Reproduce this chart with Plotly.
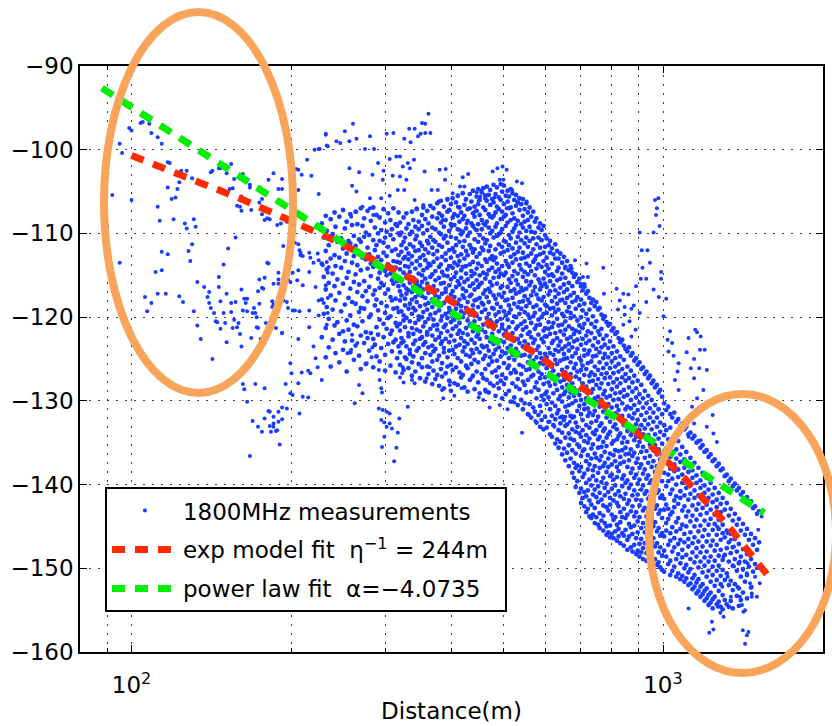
import numpy as np
import plotly.graph_objects as go

# ---------------------------------------------------------------
# 1800 MHz drive-test samples: (distance in m, received level in dB)
# ---------------------------------------------------------------
near_field = [
    (99,-97.4),(100,-97.7),(95,-99.3),(96,-100.4),(104,-96.8),(105,-96.7),(108,-96.9),(109,-98.0),(112,-98.5),(114,-99.3),
    (90,-102.8),(92,-105.4),(90,-109.1),(95,-113.5),(100,-106.0),(117,-101.5),(118,-101.6),(117,-104.5),(122,-104.7),(123,-103.9),
    (119,-105.9),(121,-105.7),(112,-106.8),(113,-108.5),(120,-108.3),(124,-102.5),(127,-102.5),(130,-103.4),(126,-108.8),(127,-109.4),
    (131,-108.3),(132,-109.2),(130,-111.3),(128,-112.1),(129,-113.3),(114,-112.2),(117,-112.5),(114,-114.4),(111,-114.6),(106,-117.6),
    (109,-118.3),(107,-119.3),(112,-117.2),(116,-117.2),(123,-117.5),(125,-118.2),(131,-119.3),(133,-121.0),(135,-122.6),(133,-115.8),
    (137,-116.4),(140,-117.0),(139,-117.6),(140,-118.3),(141,-118.9),(143,-119.5),(144,-120.5),(145,-120.6),(146,-115.2),(146,-116.4),
    (149,-113.7),(151,-117.2),(147,-118.1),(149,-119.5),(150,-120.7),(147,-121.4),(154,-118.3),(157,-118.2),(154,-119.4),(156,-120.3),
    (155,-121.3),(158,-121.2),(159,-120.7),(161,-116.7),(163,-117.8),(164,-118.3),(165,-117.8),(162,-119.2),(165,-119.3),(169,-119.5),
    (170,-118.9),(171,-119.5),(172,-120.0),(174,-118.4),(160,-122.0),(161,-123.5),(151,-123.0),(142,-125.0),(168,-122.5),(172,-121.2),
    (152,-111.8),(157,-110.5),(180,-113.5),(181,-113.6),(174,-115.5),(178,-115.3),(176,-116.5),(173,-116.9),(177,-116.6),(185,-116.0),
    (189,-114.7),(189,-115.5),(184,-118.1),(185,-118.5),(184,-118.8),(196,-118.2),(197,-118.9),(203,-119.2),(173,-121.3),(179,-120.7),
    (175,-122.6),(178,-123.1),(192,-121.9),(206,-122.6),
    (142,-102.5),(147,-102.2),(151,-102.8),(154,-101.7),(156,-103.5),(153,-104.7),(158,-106.7),(160,-106.8),(161,-107.3),(162,-102.9),
    (163,-105.9),(167,-104.5),(168,-107.2),(176,-105.9),(174,-106.3),(176,-107.7),(178,-108.4),(180,-108.2),(181,-103.6),(185,-102.8),
    (189,-104.7),(192,-103.5),(192,-104.7),(182,-108.3),(188,-109.0),(191,-108.8),(196,-108.6),(193,-111.5),(202,-110.0),(206,-111.3),
    (207,-112.0),(208,-112.6),(206,-102.4),(209,-103.0),(206,-104.8),(214,-101.2),(218,-103.1),(221,-100.0),(225,-99.9),(232,-98.2),
    (234,-99.6),(225,-105.3),(141,-102.7),(146,-102.2),(160,-103.4),(155,-104.6),(167,-104.2),(161,-105.6),(204,-102.3),
    (189,-116.0),(197,-115.5),(201,-114.7),(199,-115.8),(203,-111.1),(208,-112.3),(210,-112.7),(216,-112.3),(217,-112.9),(220,-113.5),
    (224,-112.4),(225,-113.2),(229,-113.8),(233,-113.4),(235,-114.0),(234,-114.7),(206,-114.4),(205,-115.6),(210,-116.2),(216,-114.6),
    (222,-116.4),(232,-116.2),(225,-118.0),(234,-117.7),(193,-118.0),(201,-119.2),(207,-119.3),(216,-119.2),(225,-119.8),(230,-118.3),
    (234,-119.5),(187,-121.3),(192,-121.9),(216,-121.2),(220,-123.5),(222,-124.9),(224,-126.0),(228,-127.5),(233,-120.9),
]

near_tail = [
    (162,-128.0),(163,-128.6),(165,-130.1),(171,-128.0),(178,-128.5),(182,-131.3),(185,-131.9),(189,-131.3),(192,-130.8),(196,-130.9),
    (199,-129.1),(201,-129.3),(207,-131.5),(210,-129.5),(215,-129.6),(195,-128.0),(199,-125.5),(200,-126.7),(206,-127.9),(209,-126.6),
    (215,-126.4),(217,-126.7),(169,-132.4),(173,-133.1),(176,-133.7),(178,-132.1),(181,-131.2),(182,-133.0),(183,-133.7),(185,-133.1),
    (187,-133.6),(188,-133.5),(190,-135.2),(185,-132.7),(189,-132.5),(192,-132.2),(167,-136.6),
]

upper_scatter = [
    (232,-98.1),(243,-99.0),(247,-99.2),(252,-97.8),(257,-99.0),(261,-96.9),(265,-98.7),(275,-99.9),(281,-98.4),(286,-99.9),
    (302,-98.1),(311,-98.0),(326,-98.7),(333,-97.5),(341,-97.5),(335,-99.1),(346,-98.4),(350,-98.1),(352,-96.8),(357,-96.9),
    (362,-95.7),(357,-98.0),(365,-98.0),(226,-99.9),(233,-99.5),
    (257,-102.2),(268,-102.7),(260,-104.3),(265,-105.0),(284,-103.0),(298,-102.5),(306,-101.1),(315,-100.8),(320,-100.8),(331,-101.6),
    (340,-101.2),(334,-102.2),(324,-102.0),(329,-103.6),(320,-103.2),(310,-103.1),(297,-103.6),(291,-101.6),(281,-105.8),(272,-106.8),
    (265,-107.4),(259,-108.0),(281,-107.0),(285,-107.8),(295,-105.8),(306,-105.5),(317,-104.8),(326,-104.8),(341,-106.0),(344,-107.0),
    (354,-106.6),(356,-102.6),(367,-104.8),(380,-102.4),(390,-102.3),(377,-104.8),(389,-103.6),(378,-106.2),(393,-106.0),(402,-105.2),
    (415,-104.4),(411,-106.8),(423,-104.4),(425,-106.0),(453,-105.6),(462,-105.4),(442,-107.4),(478,-102.6),(488,-102.2),(499,-102.0),
    (508,-102.4),(493,-103.6),(501,-103.6),(520,-104.8),(531,-103.8),(543,-104.0),(536,-105.8),(554,-106.2),(508,-107.0),(472,-108.0),
    (459,-108.8),(442,-109.4),(427,-108.8),(415,-109.6),(400,-109.2),(385,-108.4),(420,-103.3),(430,-102.9),(446,-105.1),(455,-104.9),
    (468,-105.4),(482,-105.7),(450,-106.1),
]

lower_scatter = [
    (292,-126.3),(293,-127.5),(295,-128.5),(296,-129.0),(292,-130.9),(297,-131.1),(302,-131.3),(306,-131.5),(295,-132.3),(299,-132.6),
    (306,-132.7),(302,-133.1),(309,-133.3),(296,-135.5),(299,-134.3),(315,-135.6),(312,-137.2),(317,-133.8),(319,-132.1),(320,-127.2),
    (323,-126.7),(331,-130.7),(325,-127.8),
    (260,-122.1),(266,-123.1),(259,-123.9),(255,-124.3),(268,-128.1),(272,-129.1),(263,-130.3),(284,-123.6),(283,-124.8),(277,-125.5),
    (324,-126.0),(337,-127.5),(341,-127.9),(359,-127.3),(364,-126.0),(384,-128.7),(386,-129.7),(397,-128.1),(418,-128.5),(427,-126.0),
    (437,-127.2),(459,-129.9),(464,-128.9),(488,-127.9),(493,-130.5),(510,-131.0),(525,-130.2),(543,-133.8),(560,-131.7),(575,-132.4),
    (590,-131.3),(612,-132.5),(625,-133.1),(640,-132.0),(655,-131.9),(668,-132.5),(450,-129.6),(472,-130.8),(405,-129.4),
]

streak_1km = [
    (966,-106.0),(980,-105.8),(974,-107.0),(970,-107.8),(985,-109.1),(904,-109.9),(960,-109.9),(912,-112.0),(935,-112.0),(945,-113.5),
    (915,-114.1),(908,-115.4),(930,-115.4),(992,-115.4),(960,-116.7),(982,-117.6),(930,-118.2),(904,-119.5),(1002,-119.9),(1014,-117.8),
    (992,-114.6),
]

right_scatter = [
    (772,-114.1),(774,-117.2),(683,-113.2),(718,-113.6),(654,-114.2),(673,-114.2),(707,-115.2),(722,-115.2),(700,-116.0),(713,-116.4),
    (818,-116.6),(842,-117.2),(861,-117.3),(829,-118.0),(847,-118.8),(872,-119.0),(823,-119.1),(881,-118.6),(890,-116.3),(847,-119.7),
    (865,-120.5),(842,-120.9),(888,-121.5),(872,-122.3),
    (1031,-121.7),(1020,-122.7),(1040,-123.1),(1024,-124.1),(1047,-124.6),(1070,-125.5),(1065,-126.5),(1053,-127.5),(1108,-124.2),(1070,-128.7),
    (1150,-121.5),(1159,-121.8),(1177,-122.3),(1117,-122.5),(1174,-123.9),(1144,-125.0),(1209,-126.3),(1128,-126.1),(1144,-127.3),(1191,-128.7),
    (1159,-129.7),(1134,-130.7),(1177,-130.7),(1240,-131.7),(1144,-132.7),(1209,-133.1),(1244,-133.9),(1263,-134.9),(1177,-134.7),(1117,-134.3),
    (1086,-135.5),(1198,-123.9),(1170,-126.1),
]

far_scatter = [
    (1427,-159.0),(1438,-158.0),(1413,-157.4),(1448,-157.6),(1244,-157.3),(1222,-157.7),(1236,-156.4),(1117,-154.8),(1282,-155.3),(1300,-155.8),
    (1268,-154.6),(1417,-155.2),(1427,-155.0),(1469,-153.4),(1502,-153.4),(1408,-154.4),(1396,-153.4),(1511,-145.4),(1533,-143.8),(1502,-150.0),
    (1490,-151.0),(1469,-152.2),(1469,-153.0),(1521,-151.8),(1443,-149.4),(1282,-143.4),(1264,-145.0),(1323,-145.8),(1342,-146.6),(1360,-147.4),
    (1300,-148.6),(1394,-149.2),(1413,-150.2),(1438,-150.6),(1458,-151.8),(1360,-149.8),(1323,-151.0),(1293,-152.2),(1380,-152.2),(1342,-153.4),
]

# dense part of the drive: levels logged at each distance step
cloud_near = {
    228:[-108.8,-113.6,-117.9,-122.4], 230:[-110.5,-115.2,-119.6], 232:[-107.9,-112.1,-116.7,-121.3,-124.8],
    233:[-109.7,-114.3,-118.8], 235:[-111.4,-115.9,-120.2,-123.6], 237:[-108.3,-113.0,-117.4,-125.9],
    239:[-110.1,-114.8,-119.1,-122.7], 241:[-107.5,-112.6,-116.3,-121.0], 242:[-109.2,-113.9,-118.0,-124.3],
    244:[-111.0,-115.5,-120.6], 246:[-108.0,-112.9,-117.1,-122.0,-125.4], 248:[-110.6,-114.1,-119.3],
    250:[-107.2,-111.8,-116.0,-121.7,-123.9], 252:[-109.4,-113.3,-118.5,-122.9], 254:[-108.6,-112.4,-115.3,-120.4,-126.5],
    256:[-110.9,-114.6,-117.7,-121.5], 258:[-107.7,-111.2,-116.6,-119.8,-124.2], 260:[-109.0,-113.5,-118.2,-122.8],
    262:[-110.3,-112.7,-115.8,-120.9,-125.1], 264:[-107.4,-111.5,-114.9,-118.4,-123.4], 266:[-108.9,-113.8,-117.0,-121.1],
    268:[-110.7,-112.2,-116.1,-119.4,-124.6], 270:[-107.0,-111.0,-114.4,-118.9,-122.2,-126.2], 272:[-109.1,-112.9,-117.5,-120.5],
    274:[-108.2,-110.4,-115.7,-119.0,-123.1], 276:[-109.9,-113.1,-116.9,-121.8,-125.6], 278:[-107.3,-111.7,-114.2,-118.1,-122.5],
    280:[-110.2,-112.5,-116.4,-120.0,-124.0], 282:[-108.5,-113.6,-115.1,-119.7,-121.9], 285:[-106.9,-110.8,-114.0,-117.3,-122.6,-126.0],
    287:[-109.3,-112.0,-116.8,-118.6,-123.3], 289:[-107.8,-111.4,-113.4,-117.9,-121.2,-124.7], 291:[-110.0,-112.8,-115.4,-119.2,-122.1],
    293:[-108.1,-110.9,-114.7,-116.5,-120.3,-125.3], 295:[-109.6,-113.2,-115.9,-118.3,-123.7], 298:[-107.1,-111.1,-112.3,-116.2,-120.8,-122.4],
    300:[-108.7,-110.5,-114.5,-117.2,-119.5,-124.5,-126.4], 302:[-109.8,-112.7,-115.0,-118.7,-121.4], 304:[-107.6,-111.6,-113.7,-116.7,-120.1,-123.2],
    307:[-108.4,-110.2,-114.8,-117.6,-119.9,-122.0,-125.8], 309:[-109.5,-112.1,-115.6,-118.0,-121.6,-124.1], 311:[-107.0,-110.7,-113.3,-116.0,-119.0,-123.0],
    314:[-108.9,-111.9,-114.1,-117.8,-120.7,-122.7,-126.6], 316:[-109.1,-113.4,-115.7,-118.9,-121.1,-124.9], 318:[-107.5,-110.0,-112.6,-116.3,-119.4,-123.5],
}

cloud_mid = {
    320:[-108.7,-110.2,-113.5,-114.3,-116.9,-118.0,-120.8,-121.6,-124.2,-125.7],
    322:[-109.9,-111.4,-112.2,-115.6,-117.4,-119.3,-122.5,-123.1],
    325:[-108.1,-111.0,-113.0,-114.7,-116.2,-119.8,-120.4,-122.9,-126.3],
    327:[-110.5,-112.8,-113.9,-117.8,-118.6,-121.2,-124.8],
    329:[-107.6,-109.4,-111.8,-115.1,-116.6,-117.2,-120.1,-123.5,-125.0],
    332:[-108.9,-112.4,-113.1,-114.0,-116.8,-119.0,-121.9,-122.3,-126.1],
    334:[-110.1,-111.3,-114.6,-115.9,-118.4,-120.5,-123.9,-124.4],
    337:[-107.4,-109.8,-112.7,-113.6,-117.0,-117.9,-119.6,-121.3,-125.4,-127.0],
    339:[-108.4,-111.6,-115.3,-116.4,-118.9,-122.0,-123.2,-124.7],
    342:[-109.2,-110.7,-112.1,-114.2,-117.6,-119.2,-120.7,-122.8,-126.5],
    344:[-107.1,-110.3,-113.3,-115.7,-116.1,-118.2,-121.5,-124.0],
    347:[-108.6,-109.5,-112.0,-114.8,-117.3,-119.9,-120.3,-123.7,-125.6],
    349:[-111.1,-112.9,-113.8,-116.3,-118.7,-121.7,-122.6,-127.3],
    352:[-107.8,-109.1,-111.5,-115.0,-115.8,-117.5,-120.0,-122.4,-124.9,-126.0],
    354:[-106.9,-110.0,-112.6,-114.4,-116.7,-119.4,-121.1,-123.3],
    357:[-108.3,-111.9,-113.2,-115.4,-117.7,-118.5,-120.6,-123.0,-124.3,-127.7],
    360:[-107.3,-109.6,-110.9,-114.1,-116.0,-119.1,-121.8,-122.1,-125.9],
    362:[-108.8,-111.2,-112.3,-113.6,-117.1,-118.3,-120.2,-123.6,-126.8],
    365:[-106.7,-110.4,-113.8,-115.2,-116.5,-119.7,-121.4,-124.5],
    368:[-108.0,-109.3,-111.7,-114.9,-117.9,-118.8,-122.2,-123.4,-125.3,-128.0],
    370:[-107.0,-110.8,-112.5,-113.4,-116.3,-120.3,-121.0,-124.1,-126.4],
    373:[-109.5,-111.0,-114.5,-115.6,-117.4,-119.5,-122.7,-123.8,-127.4],
    376:[-106.4,-108.2,-112.1,-113.0,-116.8,-118.1,-120.9,-121.5,-125.1,-126.9],
    379:[-107.6,-109.9,-111.4,-114.0,-115.3,-117.6,-119.2,-122.4,-124.6,-128.2],
    382:[-106.1,-108.7,-110.1,-113.7,-116.0,-118.6,-120.4,-121.9,-123.2,-126.2],
    384:[-107.9,-111.6,-112.8,-114.6,-117.2,-119.9,-122.9,-125.5,-127.1],
    387:[-106.8,-109.2,-110.6,-115.0,-115.9,-118.3,-121.2,-123.7,-124.2,-128.5],
    390:[-108.4,-110.3,-112.4,-113.2,-116.6,-117.0,-119.6,-120.9,-122.6,-126.7],
    393:[-105.9,-107.4,-111.1,-114.3,-115.1,-117.8,-120.1,-121.7,-124.8,-125.9],
    396:[-107.2,-109.7,-112.0,-113.9,-116.2,-118.9,-119.4,-123.0,-124.0,-127.6],
    399:[-106.5,-108.9,-110.4,-112.9,-115.5,-117.3,-120.6,-122.2,-125.7,-128.8],
    402:[-105.8,-108.1,-111.8,-114.1,-116.9,-118.1,-119.8,-121.4,-123.9,-126.3],
    405:[-107.7,-109.0,-112.2,-113.5,-115.2,-117.6,-120.3,-122.8,-124.4,-127.9],
    408:[-106.3,-110.6,-111.4,-114.7,-116.4,-119.0,-121.1,-123.5,-126.0],
    411:[-105.5,-107.9,-109.5,-112.7,-113.8,-115.7,-118.4,-119.9,-122.0,-124.9,-128.1],
    414:[-106.9,-108.6,-111.0,-113.3,-116.1,-117.9,-120.7,-121.6,-123.3,-126.6],
    417:[-107.5,-110.1,-112.5,-114.4,-115.3,-118.7,-119.3,-122.5,-125.3,-127.2],
    420:[-105.2,-108.3,-109.8,-111.6,-114.0,-116.6,-117.4,-120.0,-121.9,-124.1,-126.9],
    423:[-106.6,-107.9,-110.9,-113.0,-115.8,-117.7,-119.5,-122.9,-123.6,-128.4],
    426:[-105.9,-109.4,-112.1,-113.9,-114.8,-116.9,-118.9,-121.3,-124.5,-125.8],
    429:[-107.1,-108.5,-110.3,-112.6,-115.5,-118.2,-120.4,-122.1,-123.2,-126.1,-128.9],
    433:[-105.3,-107.0,-109.9,-111.4,-113.7,-116.3,-117.5,-119.7,-121.0,-124.7,-127.5],
    436:[-106.2,-108.8,-111.8,-114.5,-115.1,-117.3,-120.8,-122.7,-123.9,-125.6],
    439:[-104.9,-107.6,-109.1,-112.3,-113.4,-116.0,-118.6,-119.2,-121.7,-124.3,-127.0],
    442:[-106.8,-108.0,-110.7,-111.9,-114.8,-116.7,-118.0,-120.5,-123.1,-125.1,-128.6],
    446:[-105.6,-107.3,-109.6,-112.8,-114.2,-115.6,-117.9,-119.8,-122.3,-123.8,-126.5],
    449:[-104.7,-106.5,-108.9,-111.0,-113.6,-116.4,-118.8,-121.2,-122.0,-125.4,-127.8],
    452:[-106.0,-107.8,-110.2,-112.4,-115.0,-116.1,-117.7,-120.2,-122.6,-124.2,-129.1],
    456:[-105.1,-108.4,-109.5,-111.7,-113.9,-115.9,-118.3,-119.4,-121.5,-123.4,-126.8],
    459:[-104.6,-106.9,-110.6,-112.0,-114.7,-117.2,-118.5,-120.9,-123.6,-125.0,-127.3],
    463:[-105.8,-107.2,-109.0,-111.2,-113.1,-115.4,-116.8,-119.1,-121.8,-124.6,-126.2,-128.7],
    466:[-104.4,-106.1,-108.6,-110.8,-113.4,-114.9,-117.6,-120.1,-122.4,-123.5,-127.5],
    470:[-105.4,-107.7,-109.3,-112.1,-114.4,-116.6,-118.2,-119.6,-121.1,-124.0,-125.7,-129.0],
    473:[-104.8,-106.6,-110.0,-111.5,-113.0,-115.8,-117.0,-120.4,-122.9,-124.8,-127.9],
    477:[-105.9,-108.1,-109.7,-112.7,-114.1,-116.2,-118.9,-120.7,-122.0,-125.3,-126.6],
    480:[-104.2,-106.3,-107.9,-110.5,-113.2,-115.3,-117.4,-119.0,-121.4,-123.2,-124.4,-128.2],
    484:[-105.3,-107.5,-109.2,-111.9,-112.9,-114.6,-117.8,-119.7,-121.0,-123.9,-126.4,-129.4],
    487:[-104.5,-106.8,-108.8,-110.3,-113.6,-116.0,-118.4,-120.5,-122.7,-125.2,-127.1],
    491:[-105.7,-107.1,-110.1,-111.3,-114.3,-115.2,-117.3,-119.4,-121.7,-123.6,-126.0,-128.5],
    495:[-104.1,-106.0,-108.3,-109.9,-112.4,-114.8,-116.5,-118.8,-120.2,-122.8,-124.7,-127.6],
    498:[-105.0,-107.4,-109.5,-111.6,-113.9,-116.3,-117.6,-120.9,-121.3,-124.1,-126.9,-129.7],
    502:[-104.3,-106.5,-108.0,-110.9,-112.2,-115.0,-117.1,-119.3,-122.1,-123.0,-125.5,-128.0],
    506:[-105.5,-107.8,-109.1,-111.0,-113.3,-114.7,-118.0,-119.8,-121.6,-124.3,-127.3,-129.2],
    510:[-104.9,-106.2,-108.7,-112.0,-113.7,-116.4,-117.9,-120.3,-122.5,-123.7,-126.1],
    513:[-105.6,-107.0,-110.2,-111.4,-114.0,-115.5,-118.6,-119.5,-121.2,-124.9,-125.8,-128.8],
    517:[-104.7,-106.9,-108.4,-110.6,-112.8,-115.9,-116.9,-119.1,-122.3,-123.4,-126.7,-130.1],
    521:[-105.2,-107.6,-109.8,-111.8,-113.5,-115.1,-117.7,-120.6,-121.9,-124.5,-127.9],
    525:[-106.0,-108.2,-109.4,-112.5,-114.5,-116.7,-118.4,-119.9,-122.8,-125.1,-126.3,-129.6],
    529:[-105.4,-106.7,-109.0,-111.1,-113.1,-115.6,-117.2,-120.0,-121.4,-123.8,-126.6,-128.3],
    533:[-106.3,-108.5,-110.4,-112.2,-114.8,-116.1,-118.8,-121.1,-122.6,-124.2,-127.4,-130.5],
    537:[-105.8,-107.2,-109.9,-111.7,-113.8,-117.0,-118.2,-119.6,-123.1,-125.7,-128.6],
    541:[-106.5,-108.9,-110.8,-113.0,-114.3,-116.5,-119.0,-120.8,-122.2,-124.6,-126.8,-129.9],
    545:[-105.9,-107.9,-109.3,-112.3,-115.2,-116.8,-118.1,-121.5,-123.5,-125.9,-127.7,-131.0],
    549:[-107.1,-108.6,-111.2,-112.9,-114.6,-117.5,-119.4,-120.5,-122.9,-124.5,-128.1,-130.3],
    553:[-106.4,-109.7,-110.5,-113.6,-115.7,-116.6,-118.7,-121.2,-123.8,-126.3,-129.0],
    557:[-107.5,-108.4,-111.6,-112.7,-114.9,-117.9,-119.7,-122.0,-123.3,-125.4,-127.5,-131.6],
    561:[-106.9,-109.2,-110.9,-113.9,-116.2,-118.3,-120.1,-121.8,-124.7,-126.2,-130.4],
    565:[-108.0,-109.8,-112.4,-114.5,-115.8,-117.4,-120.7,-122.4,-124.0,-127.1,-128.9,-132.0],
    570:[-107.4,-110.6,-111.9,-113.4,-116.9,-118.8,-119.9,-123.1,-125.2,-126.9,-130.8],
    574:[-108.6,-109.9,-113.1,-115.0,-116.4,-119.5,-121.4,-122.7,-125.8,-128.4,-131.3],
    578:[-108.2,-111.3,-112.7,-114.2,-117.3,-118.6,-121.0,-123.9,-124.8,-127.8,-129.7,-132.6],
    583:[-109.3,-110.5,-113.7,-115.5,-117.8,-120.3,-122.1,-123.5,-126.5,-128.7,-131.7],
    587:[-108.8,-111.7,-112.5,-115.9,-116.7,-119.1,-120.9,-124.3,-125.5,-127.3,-130.6,-133.1],
    591:[-109.6,-110.8,-114.0,-116.3,-118.0,-120.0,-122.6,-124.9,-126.8,-129.4,-132.3],
    596:[-109.1,-112.3,-113.3,-115.4,-117.6,-119.6,-121.6,-123.0,-125.6,-128.0,-129.9,-133.4],
    600:[-110.2,-111.6,-114.6,-116.0,-118.5,-121.3,-122.3,-124.4,-127.2,-129.2,-131.9],
}

cloud_far = {
    604:[-110.6,-112.9,-113.8,-116.4,-118.7,-119.5,-122.3,-124.8,-126.1,-128.9,-130.4,-133.2],
    609:[-111.4,-114.2,-115.0,-117.3,-120.6,-121.4,-123.7,-125.5,-127.8,-129.6,-132.5],
    613:[-110.9,-112.3,-115.7,-116.9,-119.0,-122.0,-124.3,-126.7,-128.2,-131.0,-134.0],
    618:[-111.8,-113.6,-114.9,-118.1,-119.8,-121.2,-123.1,-125.9,-127.3,-130.2,-131.8,-134.3],
    622:[-112.5,-115.1,-116.2,-118.9,-120.7,-122.8,-124.5,-126.4,-129.1,-132.9],
    627:[-111.3,-113.0,-116.8,-117.6,-119.4,-121.9,-123.9,-125.1,-128.0,-130.6,-132.2,-135.1],
    632:[-112.1,-114.5,-115.6,-118.4,-120.2,-122.5,-125.6,-127.1,-128.7,-131.5,-134.6],
    636:[-113.0,-114.1,-117.2,-119.1,-121.0,-123.4,-124.1,-126.9,-129.8,-131.1,-133.5,-135.6],
    641:[-112.4,-115.4,-116.5,-118.0,-121.7,-122.9,-125.2,-127.7,-129.4,-132.7,-134.9],
    646:[-113.5,-114.8,-117.9,-119.6,-120.9,-123.8,-126.3,-128.4,-130.1,-131.9,-133.8,-136.4],
    651:[-112.8,-116.1,-117.0,-119.9,-122.1,-124.4,-125.0,-127.5,-129.2,-132.3,-135.7],
    655:[-114.0,-115.3,-118.3,-120.5,-121.5,-123.5,-126.6,-128.9,-130.7,-133.0,-134.4,-137.1],
    660:[-113.3,-116.7,-117.7,-119.3,-122.6,-124.9,-126.0,-128.1,-131.3,-132.8,-136.2],
    665:[-114.4,-115.9,-118.8,-121.1,-123.2,-124.0,-127.3,-129.6,-130.5,-133.9,-135.3,-137.8],
    670:[-113.9,-117.4,-119.5,-120.1,-122.4,-125.4,-126.8,-129.0,-131.8,-134.5,-136.9],
    675:[-114.7,-116.3,-118.2,-121.4,-123.6,-124.7,-127.9,-130.3,-132.0,-133.4,-135.9,-138.6],
    680:[-115.2,-117.1,-119.9,-122.0,-122.9,-126.1,-128.5,-129.4,-131.9,-134.7,-137.4,-139.2],
    685:[-114.9,-118.0,-119.0,-121.6,-124.3,-125.6,-127.1,-130.0,-132.6,-133.7,-136.3,-138.0,-140.3],
    690:[-115.8,-117.6,-120.4,-122.7,-123.8,-126.5,-128.8,-131.2,-133.1,-135.2,-137.7,-139.6],
    696:[-115.4,-118.6,-121.0,-121.8,-124.9,-127.4,-129.3,-130.6,-133.9,-135.5,-138.4,-141.0],
    701:[-116.3,-117.9,-120.0,-123.3,-125.2,-126.3,-129.9,-131.6,-134.3,-136.6,-137.9,-140.5,-142.2],
    706:[-116.8,-119.2,-121.3,-122.6,-125.8,-127.9,-128.6,-132.3,-133.5,-136.0,-139.1,-141.6],
    711:[-116.1,-118.4,-120.8,-123.9,-124.6,-126.9,-130.4,-131.0,-134.8,-135.8,-138.7,-140.9,-142.6],
    717:[-117.2,-119.6,-122.2,-123.1,-126.2,-128.3,-129.7,-132.9,-134.1,-137.2,-139.8,-141.4,-143.3],
    722:[-116.9,-120.3,-121.7,-124.4,-125.5,-128.9,-130.9,-131.8,-135.0,-136.5,-138.2,-140.7,-142.9],
    727:[-117.7,-119.1,-122.8,-124.0,-127.0,-127.7,-131.4,-133.2,-134.5,-137.6,-139.4,-141.9,-143.8],
    733:[-118.3,-120.8,-121.9,-125.3,-126.6,-129.0,-130.2,-132.6,-135.7,-136.9,-140.1,-142.4,-144.0],
    738:[-117.9,-119.9,-123.4,-124.7,-127.6,-128.6,-131.7,-133.8,-135.2,-138.3,-139.0,-141.2,-143.6],
    744:[-118.7,-121.2,-122.5,-125.9,-126.9,-129.7,-131.2,-134.0,-136.3,-137.8,-140.6,-142.8,-144.6],
    749:[-118.2,-120.5,-123.8,-124.6,-128.1,-130.1,-132.4,-133.5,-136.8,-139.5,-141.5,-143.9],
    755:[-119.1,-121.7,-123.0,-126.3,-127.4,-129.5,-131.9,-134.6,-135.6,-138.6,-140.2,-142.1,-144.8],
    760:[-118.9,-122.1,-124.2,-125.4,-128.5,-130.7,-133.0,-134.3,-137.1,-138.0,-141.0,-143.4,-145.2],
    766:[-119.7,-121.4,-123.6,-126.8,-127.9,-129.9,-132.7,-135.5,-136.6,-139.7,-141.8,-144.3],
    772:[-120.2,-122.6,-124.9,-126.1,-129.2,-131.3,-133.6,-134.9,-137.8,-139.2,-142.5,-143.7,-145.5],
    777:[-119.9,-123.3,-124.4,-127.3,-128.8,-130.5,-133.3,-136.1,-137.4,-140.4,-141.3,-144.6],
    783:[-120.6,-122.2,-125.6,-126.7,-129.6,-132.0,-134.4,-135.4,-138.5,-139.9,-142.7,-145.0,-146.0],
    789:[-121.0,-123.7,-124.8,-128.0,-130.4,-131.6,-134.0,-136.9,-137.9,-140.9,-143.1,-145.7],
    795:[-120.8,-122.9,-126.1,-127.2,-129.4,-132.5,-133.7,-136.3,-139.0,-141.6,-142.4,-144.9,-146.3],
    801:[-121.6,-124.3,-125.3,-128.6,-130.8,-131.9,-135.1,-137.6,-138.8,-140.5,-143.6,-145.9],
    807:[-121.3,-123.5,-126.7,-127.8,-129.9,-133.1,-134.8,-136.5,-139.4,-141.9,-144.2,-146.4],
    813:[-122.0,-124.9,-125.9,-129.1,-131.5,-132.8,-135.9,-137.2,-140.1,-141.2,-143.9,-145.6],
    819:[-121.8,-124.1,-127.4,-128.3,-130.6,-133.4,-134.6,-137.9,-139.1,-142.2,-144.8,-146.7],
    825:[-122.5,-125.6,-126.5,-129.8,-131.1,-134.2,-136.0,-138.4,-140.8,-142.6,-145.3,-146.2],
    831:[-123.0,-124.7,-127.9,-129.0,-132.2,-133.9,-136.7,-137.5,-141.4,-143.3,-144.5,-147.0],
    838:[-122.7,-126.2,-127.2,-130.3,-131.8,-135.0,-135.9,-139.3,-140.2,-143.9,-145.8],
    844:[-123.4,-125.1,-128.7,-129.5,-132.9,-134.4,-137.3,-138.9,-141.7,-142.9,-146.1,-147.3],
    850:[-123.8,-126.8,-127.6,-131.0,-132.4,-135.6,-136.4,-139.8,-141.1,-144.0,-145.4],
    857:[-124.1,-125.9,-129.3,-130.7,-133.6,-134.9,-137.9,-139.5,-142.3,-143.6,-146.6,-147.8],
    863:[-123.6,-127.3,-128.4,-131.8,-133.2,-136.3,-137.1,-140.4,-141.9,-144.7,-146.2],
    870:[-124.6,-126.4,-129.9,-130.9,-134.1,-135.8,-138.6,-140.0,-143.2,-145.1,-147.5],
    876:[-124.3,-127.8,-128.9,-132.1,-133.7,-136.6,-138.1,-141.3,-142.6,-145.9,-148.0],
    883:[-125.2,-127.0,-130.5,-131.5,-134.7,-136.2,-139.2,-140.7,-143.8,-144.9,-147.2],
    890:[-124.9,-128.5,-129.6,-132.8,-134.3,-137.4,-138.8,-141.8,-143.3,-146.4,-148.3],
    896:[-125.7,-127.6,-131.1,-132.3,-135.4,-136.9,-139.9,-141.2,-144.4,-145.7,-147.9],
    903:[-125.4,-129.2,-130.2,-133.5,-134.9,-138.0,-139.4,-142.5,-143.9,-147.1,-148.6],
    910:[-126.2,-128.1,-131.7,-132.9,-136.1,-137.6,-140.6,-141.9,-145.2,-146.5,-148.1],
    917:[-126.0,-129.7,-130.8,-134.0,-135.5,-138.7,-140.1,-143.1,-144.6,-147.6,-148.9],
    924:[-126.8,-128.8,-132.3,-133.3,-136.8,-138.2,-141.1,-142.8,-145.7,-147.0],
    931:[-126.5,-130.3,-131.4,-134.6,-136.0,-139.3,-140.8,-143.8,-145.1,-148.2,-149.1],
    938:[-127.3,-129.4,-132.8,-134.1,-137.4,-138.9,-141.7,-143.3,-146.3,-147.7],
    945:[-127.0,-130.9,-132.0,-135.2,-136.6,-139.8,-141.4,-144.3,-145.9,-148.8],
    952:[-127.9,-129.9,-133.4,-134.7,-137.9,-139.5,-142.2,-144.0,-146.9,-148.4,-149.4],
    959:[-127.6,-131.4,-132.5,-135.9,-137.2,-140.4,-142.0,-145.0,-146.4,-149.1],
    966:[-128.4,-130.5,-134.0,-135.3,-138.5,-140.1,-142.9,-144.5,-147.4,-148.9],
    974:[-128.1,-132.0,-133.1,-136.4,-137.8,-141.0,-142.5,-145.6,-147.0,-149.6],
    981:[-129.0,-131.0,-134.5,-135.8,-139.1,-140.7,-143.5,-145.2,-148.1,-149.3],
    988:[-128.7,-132.6,-133.7,-137.0,-138.4,-141.6,-143.1,-146.1,-147.5,-149.9],
    996:[-129.5,-131.6,-135.1,-136.5,-139.6,-141.3,-144.0,-145.8,-148.5,-150.2],
}

cloud_edge = {
    1005:[-130.3,-132.9,-134.1,-137.4,-138.6,-141.7,-143.0,-146.2,-147.9,-150.4],
    1014:[-131.1,-133.5,-136.0,-137.1,-140.2,-142.4,-144.6,-145.5,-148.6],
    1023:[-130.7,-134.6,-135.5,-138.8,-139.6,-142.9,-144.1,-147.2,-149.5],
    1032:[-131.6,-133.2,-136.7,-138.1,-141.1,-143.6,-145.8,-146.7,-149.1,-150.8],
    1041:[-132.0,-135.0,-136.1,-139.3,-140.6,-143.3,-145.1,-148.0,-150.3],
    1050:[-131.4,-134.3,-137.6,-138.4,-141.9,-142.7,-146.4,-147.5,-149.8],
    1059:[-132.5,-135.8,-136.9,-140.0,-141.4,-144.5,-145.6,-148.9,-151.0],
    1068:[-132.2,-134.8,-138.2,-139.1,-142.3,-144.0,-147.1,-148.3,-150.6],
    1078:[-133.0,-136.4,-137.3,-140.8,-141.6,-145.3,-146.6,-149.4,-151.3],
    1087:[-132.7,-135.5,-138.8,-139.8,-143.1,-144.8,-147.8,-148.7,-150.9],
    1097:[-133.4,-137.0,-138.0,-141.3,-142.6,-145.9,-146.9,-150.0,-151.6],
    1106:[-133.1,-136.1,-139.5,-140.4,-143.8,-145.0,-148.4,-149.6,-151.2],
    1116:[-134.0,-137.6,-138.5,-141.8,-143.2,-146.5,-147.4,-150.5,-152.0],
    1126:[-133.8,-136.8,-140.1,-141.1,-144.4,-145.7,-148.9,-150.1,-151.8],
    1136:[-134.5,-138.3,-139.2,-142.5,-143.7,-147.0,-148.1,-151.2,-152.5],
    1146:[-134.2,-137.4,-140.7,-141.6,-145.0,-146.3,-149.3,-150.8,-152.2],
    1156:[-135.0,-138.9,-139.8,-143.0,-144.2,-147.6,-148.6,-151.7,-153.0],
    1166:[-134.8,-138.0,-141.3,-142.3,-145.6,-146.8,-149.9,-151.3,-152.7],
    1176:[-135.6,-139.5,-140.4,-143.6,-144.9,-148.1,-149.2,-152.2,-153.4],
    1187:[-135.3,-138.6,-141.8,-142.8,-146.2,-147.4,-150.5,-151.9,-153.1],
    1197:[-136.1,-140.1,-141.0,-144.3,-145.4,-148.7,-149.7,-152.7,-153.9],
    1208:[-135.9,-139.2,-142.4,-143.4,-146.8,-148.0,-151.0,-152.4,-153.6],
    1218:[-136.7,-140.6,-141.6,-144.8,-146.0,-149.2,-150.3,-153.2,-154.4],
    1229:[-136.4,-139.8,-143.0,-144.1,-147.3,-148.6,-151.6,-152.9,-154.1],
    1240:[-137.2,-141.2,-142.1,-145.4,-146.7,-149.8,-150.8,-153.7,-154.8],
    1251:[-137.0,-140.4,-143.6,-144.7,-147.9,-149.1,-152.1,-153.4],
    1262:[-137.8,-141.8,-142.7,-146.0,-147.2,-150.3,-151.4,-154.3],
    1273:[-137.5,-141.0,-144.2,-145.3,-148.5,-149.7,-152.7,-154.0],
    1284:[-138.3,-142.3,-143.3,-146.6,-147.8,-150.9,-151.9,-154.6],
    1295:[-138.1,-141.6,-144.8,-145.8,-149.0,-150.2,-153.2,-154.9],
    1307:[-139.0,-143.0,-146.3,-148.4,-151.4,-153.8],
    1318:[-138.8,-142.2,-145.5,-147.6,-150.6,-154.3],
    1330:[-139.6,-143.7,-146.9,-149.2,-152.0,-154.6],
    1341:[-139.3,-142.9,-145.9,-148.2,-151.5,-153.9],
    1353:[-140.2,-144.3,-147.5,-149.7,-152.6,-154.8],
    1365:[-139.9,-143.5,-146.5,-148.9,-151.9],
    1377:[-140.7,-144.8,-148.0,-150.3,-153.3],
    1389:[-140.4,-144.1,-147.1,-149.4,-152.4,-154.5],
    1401:[-141.2,-145.5,-148.6,-151.0,-153.8],
    1414:[-140.9,-144.7,-147.7,-150.1,-152.9],
    1426:[-141.8,-146.0,-149.2,-151.6],
    1439:[-141.5,-145.3,-148.3,-150.8,-153.6],
    1451:[-142.3,-146.6,-149.8],
    1464:[-142.0,-145.9,-148.9,-152.3],
    1477:[-142.8,-147.2,-150.4],
    1490:[-142.6,-146.4,-149.5],
    1503:[-143.5,-147.8],
    1516:[-143.2,-146.9],
}

# fitted models (parameters as quoted in the legend)
ALPHA = -4.0735          # power-law exponent
ETA_INV = 244.0          # exponential decay length, m
PL_LEVEL_100M = -94.9    # power-law fit level at 100 m, dB
EXP_CONST = -58.9        # exp-model constant term, dB

x_ticks_major = [100, 1000]
x_ticks_major_text = ["10<sup>2</sup>", "10<sup>3</sup>"]
x_ticks_minor = [90, 200, 300, 400, 500, 600, 700, 800, 900, 2000]
y_ticks = [-160, -150, -140, -130, -120, -110, -100, -90]


def pairs_to_xy(*groups):
    xs, ys = [], []
    for g in groups:
        for d, p in g:
            xs.append(d)
            ys.append(p)
    return xs, ys


def columns_to_xy(*groups):
    xs, ys = [], []
    for g in groups:
        for d, levels in g.items():
            xs.extend([d] * len(levels))
            ys.extend(levels)
    return xs, ys


sparse_d, sparse_p = pairs_to_xy(near_field, near_tail, upper_scatter, lower_scatter,
                                 streak_1km, right_scatter, far_scatter)
dense_d, dense_p = columns_to_xy(cloud_near, cloud_mid, cloud_far, cloud_edge)

d_pl = np.geomspace(88, 1550, 150)
pl_fit = PL_LEVEL_100M + 10 * ALPHA * np.log10(d_pl / 100.0)

d_exp = np.geomspace(100, 1600, 150)
exp_fit = EXP_CONST - 20 * np.log10(d_exp) - 10 * np.log10(np.e) * d_exp / ETA_INV

BLUE = "#1a3cff"
NBSP = "\u00a0"
fig = go.Figure()
fig.add_trace(go.Scatter(
    x=sparse_d, y=sparse_p, mode="markers",
    name="1800MHz measurements" + NBSP * 4,
    marker=dict(color=BLUE, size=4, line=dict(width=0)),
    legendgroup="a",
))
fig.add_trace(go.Scatter(
    x=dense_d, y=dense_p, mode="markers", showlegend=False,
    marker=dict(color=BLUE, size=4.8, line=dict(width=0)),
    legendgroup="a",
))
fig.add_trace(go.Scatter(
    x=d_exp, y=exp_fit, mode="lines",
    name="exp model fit" + NBSP * 2 + "η<sup>−1</sup> = 244m",
    line=dict(color="#ff2a00", width=7, dash="13px,10px"),
    legendgroup="b",
))
fig.add_trace(go.Scatter(
    x=d_pl, y=pl_fit, mode="lines",
    name="power law fit" + NBSP * 2 + "α=−4.0735",
    line=dict(color="#00ee00", width=7, dash="13px,10px"),
    legendgroup="c",
))

GRID = "rgba(0,0,0,0.75)"
GRID_DASH = "1.5px,7.5px"

fig.update_xaxes(
    type="log", range=[np.log10(80), np.log10(2000)],
    tickmode="array", tickvals=x_ticks_major, ticktext=x_ticks_major_text,
    ticks="inside", ticklen=7, tickwidth=1, tickcolor="black",
    showline=True, linecolor="black", linewidth=1.5, mirror="allticks",
    showgrid=True, gridcolor=GRID, griddash=GRID_DASH, gridwidth=1,
    zeroline=False, ticklabelstandoff=12,
    minor=dict(tickmode="array", tickvals=x_ticks_minor, ticks="inside", ticklen=4,
               tickcolor="black", showgrid=True, gridcolor=GRID, griddash=GRID_DASH, gridwidth=1),
    tickfont=dict(family="DejaVu Sans", size=23, color="black"),
    title=dict(text="Distance(m)", font=dict(family="DejaVu Sans", size=23, color="black"), standoff=6),
)
fig.update_yaxes(
    range=[-160, -90], tickmode="array", tickvals=y_ticks,
    ticks="inside", ticklen=7, tickwidth=1, tickcolor="black",
    showline=True, linecolor="black", linewidth=1.5, mirror="allticks",
    showgrid=True, gridcolor=GRID, griddash=GRID_DASH, gridwidth=1,
    zeroline=False,
    tickfont=dict(family="DejaVu Sans", size=23, color="black"),
)

ORANGE = "#f8a55b"
fig.add_shape(type="circle", xref="paper", yref="paper",
              x0=0.0323, x1=0.2867, y0=0.442, y1=1.092,
              line=dict(color=ORANGE, width=8), layer="above")
fig.add_shape(type="circle", xref="paper", yref="paper",
              x0=0.7658, x1=1.0175, y0=-0.0358, y1=0.4403,
              line=dict(color=ORANGE, width=8), layer="above")

fig.update_layout(
    width=832, height=726,
    margin=dict(l=80, r=9, t=66, b=74, autoexpand=False),
    paper_bgcolor="white", plot_bgcolor="white",
    font=dict(family="DejaVu Sans", size=23, color="black"),
    showlegend=True,
    legend=dict(x=0.0336, y=0.068, xanchor="left", yanchor="bottom",
                bgcolor="white", bordercolor="black", borderwidth=2,
                font=dict(family="DejaVu Sans", size=23, color="black"),
                itemwidth=66, tracegroupgap=6, traceorder="grouped",
                itemsizing="trace"),
)

fig.write_html("out.html")
